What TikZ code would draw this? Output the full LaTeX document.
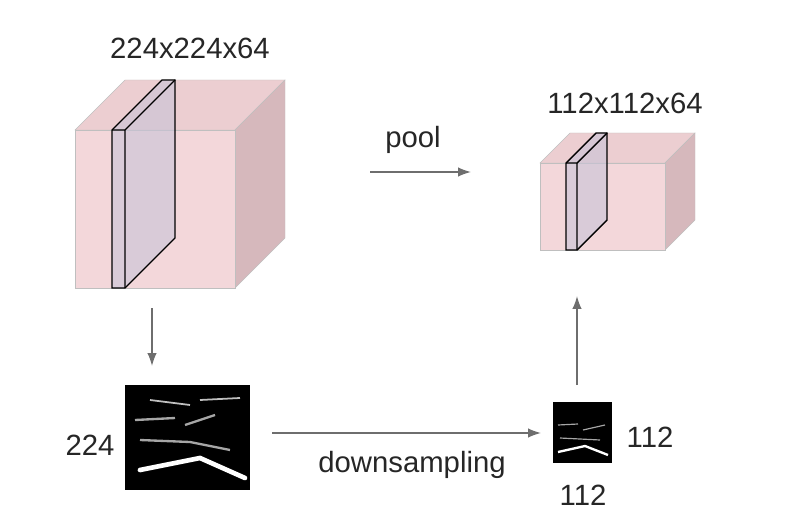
\documentclass[tikz,border=0pt]{standalone}
\usepackage{fontspec}
\setmainfont{Liberation Sans}
\usepackage{tikz}
\usetikzlibrary{positioning,arrows.meta}
\definecolor{facepink}{RGB}{243,215,218}
\definecolor{toppink}{RGB}{236,206,209}
\definecolor{sidepink}{RGB}{214,184,188}
\definecolor{slicegray}{RGB}{200,195,215}
\definecolor{arrgray}{RGB}{110,110,110}
\tikzset{
  face/.style={draw=black!25, line width=0.4pt},
  slice/.style={draw=black, line width=1.2pt, fill=slicegray, fill opacity=0.6},
  flow/.style={draw=arrgray, line width=1.2pt, -{Latex[length=11pt,width=8pt]}},
  lbl/.style={font=\fontsize{25}{28}\selectfont, text=black!85, inner sep=1pt}
}
\begin{document}
\begin{tikzpicture}[x=0.03cm, y=-0.03cm]
    \useasboundingbox (0,0) rectangle (794,513);

    % Big volume
    \fill[face, fill=toppink] (75,130) -- (125,80) -- (285,80) -- (235,130) -- cycle;
    \fill[face, fill=sidepink] (235,130) -- (285,80) -- (285,238) -- (235,288) -- cycle;
    \fill[face, fill=facepink] (75,130) rectangle (235,288);
    \draw[slice] (112,130) -- (162,80) -- (175,80) -- (175,238) -- (125,288) -- (112,288) -- cycle;
    \draw[black, line width=1.2pt] (112,130) -- (125,130) -- (175,80) (125,130) -- (125,288);
    \node[lbl] (bigdim) at (190,48) {224x224x64};

    % Small volume
    \fill[face, fill=toppink] (540,163) -- (570,133) -- (695,133) -- (665,163) -- cycle;
    \fill[face, fill=sidepink] (665,163) -- (695,133) -- (695,220) -- (665,250) -- cycle;
    \fill[face, fill=facepink] (540,163) rectangle (665,250);
    \draw[slice] (566,163) -- (596,133) -- (607,133) -- (607,220) -- (577,250) -- (566,250) -- cycle;
    \draw[black, line width=1.2pt] (566,163) -- (577,163) -- (607,133) (577,163) -- (577,250);
    \node[lbl] (smalldim) at (625,103) {112x112x64};

    % Activation maps
    \fill[black] (125,385) rectangle (250,490);
    \draw[white, line width=4pt, line cap=round] (140,470) -- (200,458) -- (245,478);
    \draw[gray!70, line width=2pt] (135,420) -- (175,418) (185,425) -- (215,415) (140,440) -- (190,442) -- (230,450);
    \draw[gray!50, line width=1.5pt] (150,400) -- (190,405) (200,400) -- (240,398);
    \coordinate (bigmap) at (187,437);
    \fill[black] (553,402) rectangle (612,463);
    \draw[white, line width=2pt] (558,452) -- (585,446) -- (608,455);
    \draw[gray!70, line width=1pt] (558,425) -- (578,424) (583,430) -- (605,425) (560,438) -- (600,440);
    \coordinate (smallmap) at (582,432);

    % Labels
    \node[lbl] (side1) at (90,445) {224};
    \node[lbl] (side2) at (650,437) {112};
    \node[lbl] (side3) at (583,495) {112};

    % Connections
    \coordinate (poolA) at (370,172);
    \coordinate (poolB) at (471,172);
    \draw[flow] (poolA) -- (poolB);
    \node[lbl] (poollbl) at (413,140) {pool};
    \coordinate (downA) at (152,308);
    \coordinate (downB) at (152,366);
    \draw[flow] (downA) -- (downB);
    \coordinate (upA) at (577,385);
    \coordinate (upB) at (577,296);
    \draw[flow] (upA) -- (upB);
    \coordinate (dsA) at (272,433);
    \coordinate (dsB) at (541,433);
    \draw[flow] (dsA) -- (dsB);
    \node[lbl] (dslbl) at (412,465) {downsampling};
\end{tikzpicture}
\end{document}
